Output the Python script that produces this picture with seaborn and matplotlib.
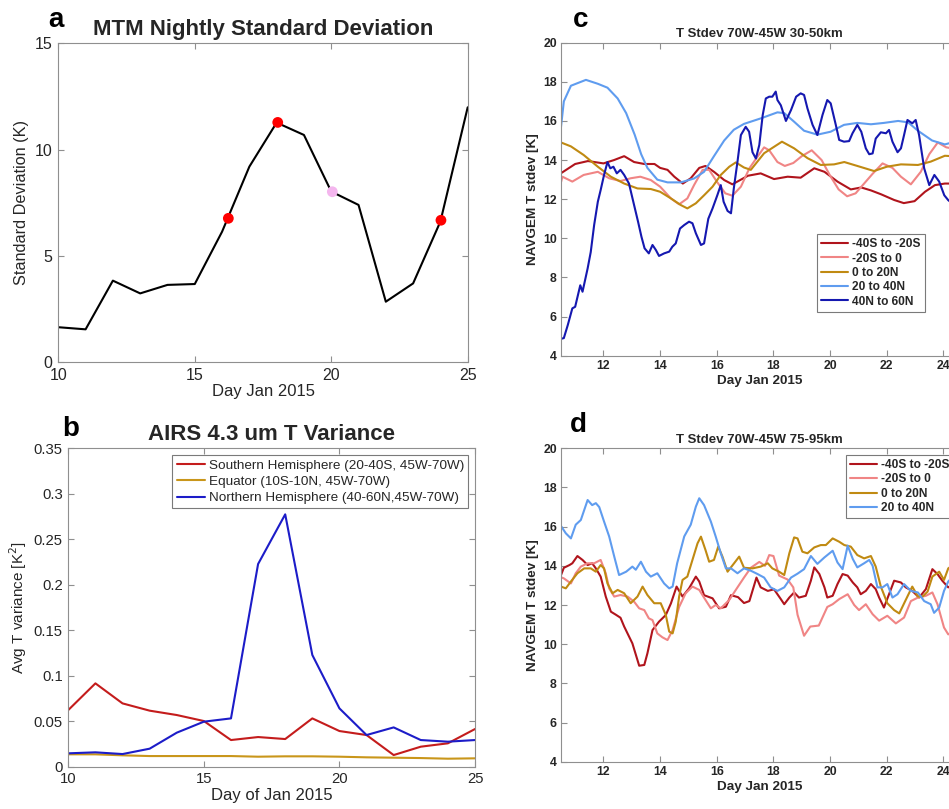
import numpy as np
import pandas as pd
import matplotlib
matplotlib.use("Agg")
import matplotlib.pyplot as plt
import seaborn as sns

# ===== data =====
# (a) MTM nightly standard deviation
a_days = [10, 11, 12, 13, 14, 15, 16, 17, 18, 19, 20, 21, 22, 23, 24, 25]
a_std = [1.65, 1.55, 3.84, 3.24, 3.64, 3.68, 6.14, 9.2, 11.27, 10.69, 8.03, 7.40, 2.85, 3.71, 6.62, 11.99]
a_red_days = [16.23, 18.04, 24.02]
a_red_vals = [6.77, 11.28, 6.68]
a_pink_days = [20.04]
a_pink_vals = [8.02]

# (b) AIRS 4.3 um T variance
b_days = list(range(10, 26))
b_south = [0.0623, 0.0916, 0.0696, 0.0616, 0.0568, 0.0502, 0.0293, 0.0326, 0.0304, 0.0531,
           0.0392, 0.0348, 0.0128, 0.0220, 0.0257, 0.0414]
b_equator = [0.0136, 0.0136, 0.0125, 0.0117, 0.0117, 0.0117, 0.0117, 0.0110, 0.0114, 0.0114,
             0.0110, 0.0103, 0.0099, 0.0095, 0.0088, 0.0092]
b_north = [0.0147, 0.0158, 0.0139, 0.0198, 0.0374, 0.0495, 0.0531, 0.2228, 0.2774, 0.1228,
           0.0641, 0.0348, 0.0432, 0.0293, 0.0275, 0.0293]
b_labels = ["Southern Hemisphere (20-40S, 45W-70W)", "Equator (10S-10N, 45W-70W)",
            "Northern Hemisphere (40-60N,45W-70W)"]

# (c) NAVGEM T stdev 30-50 km
c_red_days = [10.47, 11.0, 11.45, 12.0, 12.37, 12.73, 13.08, 13.44, 13.8, 14.0, 14.26, 14.5, 14.8,
              15.08, 15.38, 15.6, 15.9, 16.26, 16.55, 16.85, 17.1, 17.55, 18.02, 18.5, 18.96, 19.44,
              19.8, 20.26, 20.73, 21.1, 21.44, 21.8, 22.26, 22.6, 22.98, 23.35, 23.7, 24.05, 24.3]
c_red_vals = [13.3, 13.8, 13.95, 13.83, 14.0, 14.2, 13.9, 13.8, 13.8, 13.6, 13.5, 13.15, 12.8,
              13.07, 13.6, 13.7, 13.4, 12.98, 12.76, 13.0, 13.2, 13.32, 13.03, 13.15, 13.1, 13.58,
              13.4, 12.9, 12.5, 12.6, 12.45, 12.25, 11.96, 11.8, 11.9, 12.38, 12.72, 12.8, 12.8]
c_pink_days = [10.47, 10.55, 10.9, 11.3, 11.8, 12.2, 12.6, 12.96, 13.3, 13.67, 14.0, 14.38, 14.67,
               14.96, 15.2, 15.5, 15.73, 16.0, 16.3, 16.55, 16.85, 17.15, 17.4, 17.67, 17.85, 18.14,
               18.4, 18.7, 19.0, 19.35, 19.7, 20.0, 20.3, 20.6, 20.9, 21.2, 21.5, 21.85, 22.2, 22.5,
               22.85, 23.2, 23.5, 23.8, 24.1, 24.3]
c_pink_vals = [12.7, 13.15, 12.9, 13.24, 13.4, 13.07, 12.93, 13.07, 13.15, 12.98, 12.64, 12.04, 11.74,
               12.04, 12.73, 13.5, 13.5, 12.9, 12.3, 12.18, 12.64, 13.58, 14.1, 14.65, 14.5, 13.9,
               13.7, 13.85, 14.2, 14.5, 14.0, 13.2, 12.5, 12.15, 12.3, 12.8, 13.3, 13.83, 13.6, 13.15,
               12.76, 13.4, 14.3, 14.9, 14.65, 14.6]
c_gold_days = [10.45, 10.5, 10.85, 11.3, 11.8, 12.26, 12.73, 13.2, 13.67, 14.0, 14.38, 14.73, 14.96,
               15.26, 15.55, 15.85, 16.14, 16.44, 16.67, 16.96, 17.2, 17.67, 18.3, 18.73, 19.2, 19.67,
               20.14, 20.5, 20.96, 21.55, 22.0, 22.5, 23.1, 23.55, 24.05, 24.3]
c_gold_vals = [14.2, 14.9, 14.7, 14.26, 13.66, 13.15, 12.8, 12.55, 12.52, 12.38, 12.04, 11.7, 11.53,
               11.79, 12.2, 12.64, 13.24, 13.66, 13.88, 13.62, 13.5, 14.35, 14.94, 14.6, 14.1, 13.75,
               13.78, 13.9, 13.7, 13.44, 13.66, 13.78, 13.75, 13.92, 14.22, 14.2]
c_lblue_days = [10.47, 10.6, 10.85, 11.38, 11.8, 12.14, 12.5, 12.8, 13.1, 13.33, 13.55, 13.9, 14.26,
                14.73, 15.2, 15.55, 15.9, 16.26, 16.6, 16.96, 17.55, 18.14, 18.38, 18.73, 19.08, 19.55,
                20.02, 20.49, 20.96, 21.44, 21.9, 22.4, 22.75, 23.1, 23.6, 24.05, 24.3]
c_lblue_vals = [15.3, 17.0, 17.8, 18.1, 17.9, 17.7, 17.15, 16.4, 15.3, 14.3, 13.6, 13.0, 12.86,
                12.86, 13.06, 13.4, 14.2, 15.0, 15.55, 15.85, 16.13, 16.44, 16.4, 15.96, 15.5, 15.3,
                15.45, 15.8, 15.9, 15.83, 15.9, 16.0, 15.93, 15.5, 15.0, 14.8, 14.9]
c_dblue_days = [10.47, 10.6, 10.74, 10.9, 11.0, 11.18, 11.26, 11.44, 11.55, 11.67, 11.8, 11.9, 12.02,
                12.14, 12.24, 12.35, 12.47, 12.6, 12.73, 12.9, 13.08, 13.22, 13.34, 13.45, 13.6, 13.73,
                13.85, 13.96, 14.14, 14.32, 14.43, 14.55, 14.7, 14.85, 15.02, 15.14, 15.26, 15.44,
                15.55, 15.7, 15.85, 16.02, 16.14, 16.24, 16.38, 16.5, 16.6, 16.73, 16.85, 17.02, 17.14,
                17.26, 17.38, 17.5, 17.62, 17.73, 17.85, 17.96, 18.08, 18.14, 18.26, 18.44, 18.62,
                18.8, 18.96, 19.08, 19.2, 19.38, 19.55, 19.73, 19.9, 20.02, 20.2, 20.32, 20.49, 20.67,
                20.79, 20.96, 21.1, 21.26, 21.38, 21.5, 21.61, 21.79, 21.97, 22.08, 22.2, 22.38, 22.5,
                22.61, 22.73, 22.9, 23.02, 23.14, 23.32, 23.5, 23.68, 23.85, 24.03, 24.17, 24.3]
c_dblue_vals = [4.85, 4.9, 5.57, 6.42, 6.5, 7.6, 7.27, 8.46, 9.3, 10.68, 11.87, 12.47, 13.24,
                13.9, 13.58, 13.66, 13.32, 13.5, 13.24, 12.8, 11.7, 10.85, 10.08, 9.49, 9.23, 9.66,
                9.4, 9.1, 9.23, 9.32, 9.57, 9.74, 10.5, 10.68, 10.85, 10.77, 10.26, 9.66,
                9.74, 11.0, 11.53, 12.21, 12.72, 11.87, 11.4, 11.28, 12.55, 13.92, 15.28, 15.7, 15.45,
                14.4, 14.08, 14.77, 16.3, 17.15, 17.24, 17.24, 17.5, 17.07, 16.8, 16.0, 16.56,
                17.24, 17.41, 17.33, 16.64, 15.8, 15.28, 16.3, 17.07, 16.9, 15.8, 15.03, 14.94, 14.97,
                15.37, 15.8, 15.45, 14.6, 14.3, 14.34, 15.1, 15.42, 15.37, 15.54, 14.94, 14.4, 14.6,
                15.28, 16.05, 15.88, 16.05, 15.28, 13.58, 12.72, 13.24, 12.9, 12.2, 11.95, 11.8]

# (d) NAVGEM T stdev 75-95 km
d_red_days = [10.44, 10.6, 10.8, 10.9, 11.08, 11.26, 11.44, 11.6, 11.73, 11.9, 12.08, 12.26, 12.44,
              12.6, 12.73, 13.02, 13.26, 13.44, 13.55, 13.73, 13.96, 14.2, 14.38, 14.58, 14.79, 15.02,
              15.26, 15.38, 15.55, 15.85, 16.08, 16.32, 16.5, 16.75, 16.96, 17.15, 17.4, 17.55, 17.8,
              18.02, 18.26, 18.38, 18.56, 18.73, 18.9, 19.14, 19.32, 19.44, 19.62, 19.8, 19.9, 20.09,
              20.26, 20.44, 20.62, 20.8, 20.96, 21.08, 21.26, 21.44, 21.61, 21.73, 21.9, 22.08, 22.26,
              22.5, 22.67, 22.9, 23.14, 23.38, 23.61, 23.79, 23.96, 24.17, 24.3]
d_red_vals = [13.3, 13.9, 14.04, 14.13, 14.5, 14.3, 14.04, 14.13, 13.87, 13.45, 12.43, 11.66, 11.5,
              11.35, 10.9, 10.04, 8.9, 8.94, 9.53, 10.72, 11.15, 11.49, 12.08, 12.94, 12.43, 12.85,
              13.45, 13.2, 12.5, 12.34, 11.83, 11.91, 12.5, 12.4, 12.1, 12.2, 13.4, 12.9, 12.72,
              12.8, 12.3, 12.04, 12.38, 12.64, 12.38, 12.47, 13.24, 13.92, 13.58, 12.9, 12.38, 12.47,
              13.07, 13.58, 13.5, 13.15, 12.9, 12.55, 12.72, 13.07, 12.81, 12.38, 11.87, 12.55, 13.24,
              13.15, 12.9, 12.72, 12.38, 12.81, 13.83, 13.58, 13.24, 12.9, 13.0]
d_pink_days = [10.44, 10.6, 10.85, 11.02, 11.2, 11.44, 11.67, 11.9, 12.08, 12.2, 12.38, 12.6, 12.85,
               13.08, 13.26, 13.44, 13.6, 13.73, 13.9, 14.08, 14.26, 14.44, 14.67, 14.9, 15.14, 15.38,
               15.6, 15.79, 15.96, 16.14, 16.44, 16.67, 16.96, 17.2, 17.5, 17.7, 17.85, 18.0, 18.2,
               18.5, 18.7, 18.85, 19.08, 19.3, 19.6, 19.9, 20.09, 20.32, 20.62, 20.85, 21.02, 21.26,
               21.5, 21.73, 22.02, 22.32, 22.61, 22.85, 23.1, 23.38, 23.61, 23.79, 24.02, 24.17, 24.3]
d_pink_vals = [13.45, 13.36, 13.1, 13.62, 13.96, 14.13, 14.13, 14.3, 13.62, 12.85, 12.43, 12.51, 12.43,
               12.17, 11.83, 11.74, 11.32, 11.23, 10.55, 10.35, 10.21, 10.72, 11.9, 12.6, 12.94, 12.77,
               12.26, 11.83, 12.0, 11.83, 12.26, 12.77, 13.4, 13.9, 14.2, 14.0, 14.55, 14.5, 13.5,
               13.3, 12.9, 11.5, 10.43, 10.9, 10.95, 11.9, 12.04, 12.3, 12.55, 12.0, 11.74, 12.04,
               11.53, 11.2, 11.45, 11.06, 11.36, 12.2, 12.38, 12.47, 12.64, 12.04, 10.85, 10.5, 10.6]
d_gold_days = [10.44, 10.5, 10.67, 10.85, 11.08, 11.32, 11.55, 11.73, 11.9, 12.02, 12.14, 12.32, 12.5,
               12.73, 12.96, 13.2, 13.38, 13.55, 13.79, 14.02, 14.2, 14.32, 14.44, 14.55, 14.67, 14.79,
               14.96, 15.14, 15.32, 15.44, 15.6, 15.73, 15.9, 16.05, 16.2, 16.38, 16.61, 16.79, 16.96,
               17.26, 17.55, 17.8, 17.96, 18.2, 18.38, 18.56, 18.73, 18.85, 19.02, 19.2, 19.44, 19.67,
               19.85, 20.09, 20.32, 20.5, 20.73, 20.96, 21.2, 21.44, 21.61, 21.79, 22.02, 22.26, 22.44,
               22.67, 22.9, 23.1, 23.26, 23.44, 23.61, 23.85, 24.02, 24.17, 24.3]
d_gold_vals = [12.43, 12.94, 12.85, 13.2, 13.62, 13.87, 13.87, 13.7, 14.04, 13.87, 13.1, 12.6, 12.77,
               12.6, 12.09, 12.43, 12.94, 12.51, 12.09, 12.09, 11.49, 10.64, 10.55, 11.15, 12.43, 13.28,
               13.45, 14.3, 15.15, 15.49, 14.81, 14.21, 14.3, 14.98, 14.47, 13.7, 14.13, 14.47, 13.9,
               13.87, 13.96, 14.13, 13.87, 13.7, 13.53, 14.64, 15.45, 15.4, 14.72, 14.64, 14.94, 15.06,
               15.06, 15.4, 15.23, 15.06, 14.98, 14.55, 14.38, 14.5, 13.96, 12.94, 12.09, 11.74, 11.57,
               12.26, 12.94, 12.43, 12.43, 12.68, 13.45, 13.7, 13.28, 13.87, 14.0]
d_lblue_days = [10.44, 10.47, 10.67, 10.85, 11.02, 11.2, 11.44, 11.6, 11.73, 11.85, 12.02, 12.2, 12.38,
                12.55, 12.8, 13.02, 13.14, 13.32, 13.5, 13.67, 13.9, 14.14, 14.32, 14.44, 14.6, 14.85,
                15.08, 15.26, 15.38, 15.55, 15.79, 15.96, 16.14, 16.32, 16.5, 16.73, 16.96, 17.2, 17.44,
                17.67, 17.9, 18.14, 18.38, 18.62, 18.85, 19.08, 19.32, 19.55, 19.8, 20.09, 20.26, 20.44,
                20.62, 20.8, 20.96, 21.2, 21.38, 21.5, 21.67, 21.85, 22.02, 22.2, 22.38, 22.61, 22.85,
                23.1, 23.32, 23.55, 23.67, 23.85, 24.02, 24.17, 24.3]
d_lblue_vals = [15.3, 16.1, 15.66, 15.4, 16.1, 16.34, 17.36, 17.1, 17.2, 17.0, 16.26, 15.5, 14.47,
                13.53, 13.7, 13.96, 13.8, 14.21, 13.7, 13.45, 13.62, 13.1, 12.85, 12.94, 14.13, 15.5,
                16.1, 17.02, 17.45, 17.1, 16.26, 15.5, 14.64, 13.87, 13.87, 13.62, 13.87, 13.75, 13.58,
                13.4, 12.9, 12.72, 12.9, 13.4, 13.6, 13.83, 14.5, 14.1, 14.43, 14.77, 14.17, 13.83,
                15.03, 14.35, 13.92, 14.13, 14.3, 14.0, 12.9, 12.9, 13.07, 12.38, 12.55, 13.07, 12.72,
                12.64, 12.2, 12.04, 11.6, 11.87, 12.72, 13.2, 13.4]

bands = ["-40S to -20S", "-20S to 0", "0 to 20N", "20 to 40N", "40N to 60N"]
band_colors = {"-40S to -20S": "#b0141c", "-20S to 0": "#f08585", "0 to 20N": "#c08a12",
               "20 to 40N": "#5f9cef", "40N to 60N": "#1518b0"}

# ===== style =====
sns.set_style("ticks")
plt.rcParams["font.family"] = ["Liberation Sans", "DejaVu Sans"]
SPINE = "#8f8f8f"
TXT = "#262626"


def matlab_box(ax, size, bold=False):
    for s in ax.spines.values():
        s.set_visible(True)
        s.set_color(SPINE)
        s.set_linewidth(0.8)
    ax.tick_params(direction="in", top=True, right=True, length=4, width=0.8,
                   color=SPINE, labelcolor=TXT, labelsize=size, pad=4)
    if bold:
        for t in ax.get_xticklabels() + ax.get_yticklabels():
            t.set_fontweight("bold")


def long_frame(pairs):
    rows = []
    for name, (d, v) in pairs.items():
        rows.append(pd.DataFrame({"day": d, "value": v, "band": name}))
    return pd.concat(rows, ignore_index=True)


fig = plt.figure(figsize=(9.49, 8.09), dpi=100)
W, H = 949.0, 809.0


def px_axes(left, top, right, bottom):
    return fig.add_axes([left / W, 1 - bottom / H, (right - left) / W, (bottom - top) / H])


ax_a = px_axes(58.3, 43.3, 467.7, 362.3)
ax_b = px_axes(68.3, 448.3, 475.0, 766.7)
ax_c = px_axes(561.0, 42.7, 957.6, 355.7)
ax_d = px_axes(561.0, 448.3, 957.6, 761.7)

# ----- a -----
sns.lineplot(x=a_days, y=a_std, color="black", linewidth=1.5, ax=ax_a)
sns.scatterplot(x=a_red_days, y=a_red_vals, color="#ff0000", s=60, edgecolor="none", zorder=3, ax=ax_a)
sns.scatterplot(x=a_pink_days, y=a_pink_vals, color="#f4b6ee", s=60, edgecolor="none", zorder=3, ax=ax_a)
ax_a.set_xlim(10, 25)
ax_a.set_ylim(0, 15)
ax_a.set_xticks([10, 15, 20, 25])
ax_a.set_yticks([0, 5, 10, 15])
matlab_box(ax_a, 11.5)
ax_a.set_title("MTM Nightly Standard Deviation", fontsize=16, fontweight="bold", pad=6)
ax_a.set_xlabel("Day Jan 2015", fontsize=12, color=TXT, labelpad=1)
ax_a.set_ylabel("Standard Deviation (K)", fontsize=11.7, color=TXT, labelpad=4)

# ----- b -----
df_b = pd.DataFrame({"day": b_days * 3,
                     "var": b_south + b_equator + b_north,
                     "region": [b_labels[0]] * 16 + [b_labels[1]] * 16 + [b_labels[2]] * 16})
b_colors = {b_labels[0]: "#c41c1c", b_labels[1]: "#c9961a", b_labels[2]: "#1c1cc8"}
sns.lineplot(data=df_b, x="day", y="var", hue="region", hue_order=b_labels, palette=b_colors,
             linewidth=1.5, ax=ax_b)
ax_b.set_xlim(10, 25)
ax_b.set_ylim(0, 0.35)
ax_b.set_xticks([10, 15, 20, 25])
b_yt = [0, 0.05, 0.1, 0.15, 0.2, 0.25, 0.3, 0.35]
ax_b.set_yticks(b_yt)
ax_b.set_yticklabels(["0", "0.05", "0.1", "0.15", "0.2", "0.25", "0.3", "0.35"])
matlab_box(ax_b, 10.7)
ax_b.set_title("AIRS 4.3 um T Variance", fontsize=16, fontweight="bold", pad=6)
ax_b.set_xlabel("Day of Jan 2015", fontsize=12, color=TXT, labelpad=1)
ax_b.set_ylabel("Avg T variance [K$^2$]", fontsize=11, color=TXT, labelpad=3)
leg = ax_b.get_legend()
hb = leg.legend_handles
lb = [t.get_text() for t in leg.texts]
for h in hb:
    h.set_linewidth(1.5)
lg = ax_b.legend(hb, lb, loc="upper right", fontsize=9.7, frameon=True, fancybox=False,
                 borderaxespad=0.5, handlelength=2.1, handletextpad=0.3, labelspacing=0.3,
                 borderpad=0.3)
lg.get_frame().set_edgecolor("#7a7a7a")
lg.get_frame().set_linewidth(0.8)
lg.get_frame().set_alpha(1)


# ----- c and d -----
def navgem_panel(ax, pairs, title, legend_kw):
    df = long_frame(pairs)
    order = [b for b in bands if b in pairs]
    sns.lineplot(data=df, x="day", y="value", hue="band", hue_order=order, palette=band_colors,
                 linewidth=1.5, estimator=None, ax=ax)
    ax.set_xlim(10.5, 24.5)
    ax.set_ylim(4, 20)
    ax.set_xticks(range(12, 25, 2))
    ax.set_yticks(range(4, 21, 2))
    matlab_box(ax, 8.8, bold=True)
    ax.tick_params(pad=3)
    ax.set_title(title, fontsize=9.5, fontweight="bold", pad=4)
    ax.set_xlabel("Day Jan 2015", fontsize=9.7, fontweight="bold", color=TXT, labelpad=2)
    ax.set_ylabel("NAVGEM T stdev [K]", fontsize=9.7, fontweight="bold", color=TXT, labelpad=3)
    lgd = ax.get_legend()
    hh = lgd.legend_handles
    ll = [t.get_text() for t in lgd.texts]
    for h in hh:
        h.set_linewidth(1.5)
    new = ax.legend(hh, ll, frameon=True, fancybox=False, handlelength=2.3,
                    handletextpad=0.3, labelspacing=0.2, borderpad=0.35, borderaxespad=0,
                    prop={"weight": "bold", "size": 8.6}, **legend_kw)
    new.get_frame().set_edgecolor("#7a7a7a")
    new.get_frame().set_linewidth(0.8)
    new.get_frame().set_alpha(1)


c_pairs = {"-40S to -20S": (c_red_days, c_red_vals), "-20S to 0": (c_pink_days, c_pink_vals),
           "0 to 20N": (c_gold_days, c_gold_vals), "20 to 40N": (c_lblue_days, c_lblue_vals),
           "40N to 60N": (c_dblue_days, c_dblue_vals)}
d_pairs = {"-40S to -20S": (d_red_days, d_red_vals), "-20S to 0": (d_pink_days, d_pink_vals),
           "0 to 20N": (d_gold_days, d_gold_vals), "20 to 40N": (d_lblue_days, d_lblue_vals)}

navgem_panel(ax_c, c_pairs, "T Stdev 70W-45W 30-50km",
             dict(loc="upper left", bbox_to_anchor=(0.645, 0.389)))
navgem_panel(ax_d, d_pairs, "T Stdev 70W-45W 75-95km",
             dict(loc="upper left", bbox_to_anchor=(0.718, 0.979)))

# panel letters
for letter, x, y in [("a", 48, 27), ("b", 62, 436), ("c", 573, 27), ("d", 570, 432)]:
    fig.text(x / W, 1 - y / H, letter, fontsize=20, fontweight="bold", color="black",
             ha="left", va="baseline")

fig.savefig("out.png", dpi=100)
